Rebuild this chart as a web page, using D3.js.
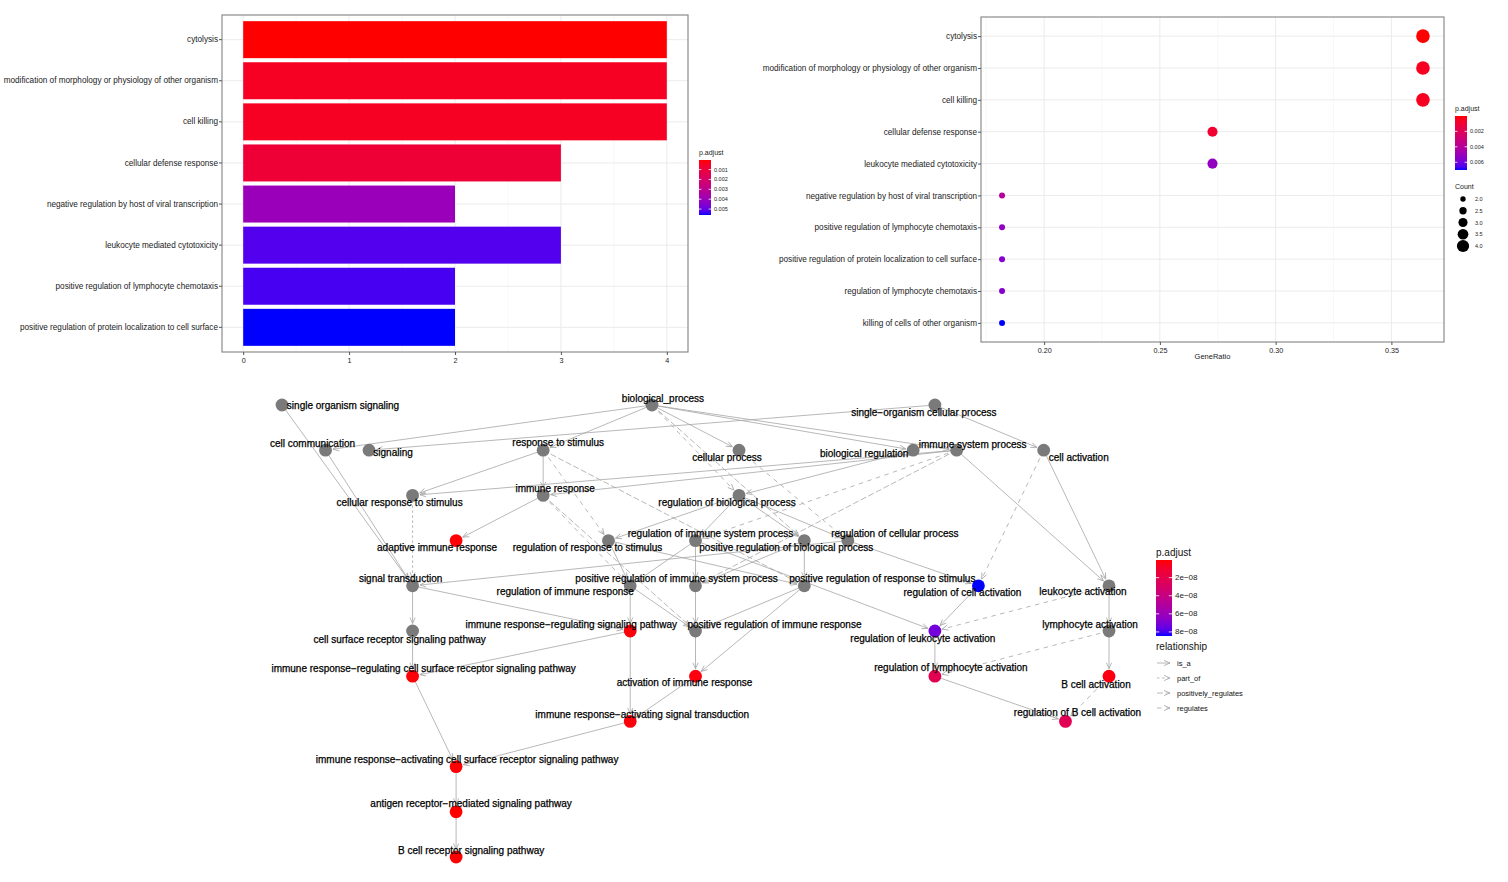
<!DOCTYPE html>
<html><head><meta charset="utf-8">
<script src="https://cdn.jsdelivr.net/npm/d3@7"></script>
<style>body{margin:0;background:#fff;} text{font-family:"Liberation Sans",Arial,sans-serif;}</style>
</head><body>
<svg id="c" width="1508" height="882"></svg>
<script>
// ---------------- DATA ----------------
const barTerms = ["cytolysis","modification of morphology or physiology of other organism","cell killing","cellular defense response","negative regulation by host of viral transcription","leukocyte mediated cytotoxicity","positive regulation of lymphocyte chemotaxis","positive regulation of protein localization to cell surface"];
const barCounts = [4,4,4,3,2,3,2,2];
const barPadj = [0.00003,0.00048,0.00048,0.00087,0.0040,0.0052,0.0053,0.0056];
const barTicks = [0,1,2,3,4];
const barLegendTicks = [0.001,0.002,0.003,0.004,0.005];

const dotTerms = ["cytolysis","modification of morphology or physiology of other organism","cell killing","cellular defense response","leukocyte mediated cytotoxicity","negative regulation by host of viral transcription","positive regulation of lymphocyte chemotaxis","positive regulation of protein localization to cell surface","regulation of lymphocyte chemotaxis","killing of cells of other organism"];
const dotCounts = [4,4,4,3,3,2,2,2,2,2];
const dotTotal = 11;
const dotPadj = [0.00002,0.00048,0.00048,0.00087,0.0052,0.0040,0.0053,0.0056,0.0056,0.0070];
const dotTicks = [0.20,0.25,0.30,0.35];
const dotLegendTicks = [0.002,0.004,0.006];
const countLegend = [2.0,2.5,3.0,3.5,4.0];

// GO graph: [id, label, layout column, layout layer, p.adjust (null = not enriched)]
const goNodes = [
 ["SOS","single organism signaling",0,0,null],
 ["BP","biological_process",17,0,null],
 ["SOCP","single\u2212organism cellular process",30,0,null],
 ["CC","cell communication",2,1,null],
 ["SIG","signaling",4,1,null],
 ["RS","response to stimulus",12,1,null],
 ["CP","cellular process",21,1,null],
 ["BR","biological regulation",29,1,null],
 ["ISP","immune system process",31,1,null],
 ["CA","cell activation",35,1,null],
 ["CRS","cellular response to stimulus",6,2,null],
 ["IR","immune response",12,2,null],
 ["RBP","regulation of biological process",21,2,null],
 ["AIR","adaptive immune response",8,3,1.2e-9],
 ["RRS","regulation of response to stimulus",15,3,null],
 ["RISP","regulation of immune system process",19,3,null],
 ["PRBP","positive regulation of biological process",24,3,null],
 ["RCP","regulation of cellular process",26,3,null],
 ["ST","signal transduction",6,4,null],
 ["RIR","regulation of immune response",16,4,null],
 ["PRISP","positive regulation of immune system process",19,4,null],
 ["PRRS","positive regulation of response to stimulus",24,4,null],
 ["RCA","regulation of cell activation",32,4,8.45e-8],
 ["LA","leukocyte activation",38,4,null],
 ["CSRSP","cell surface receptor signaling pathway",6,5,null],
 ["IRRSP","immune response\u2212regulating signaling pathway",16,5,2.0e-9],
 ["PRIR","positive regulation of immune response",19,5,null],
 ["RLA","regulation of leukocyte activation",30,5,7.2e-8],
 ["LyA","lymphocyte activation",38,5,null],
 ["IRRCS","immune response\u2212regulating cell surface receptor signaling pathway",6,6,1.5e-9],
 ["AcIR","activation of immune response",19,6,2.5e-9],
 ["RLyA","regulation of lymphocyte activation",30,6,2.2e-8],
 ["BCA","B cell activation",38,6,3.0e-9],
 ["IRAST","immune response\u2212activating signal transduction",16,7,1.8e-9],
 ["RBCA","regulation of B cell activation",36,7,2.3e-8],
 ["IRACS","immune response\u2212activating cell surface receptor signaling pathway",8,8,1.0e-9],
 ["ARMSP","antigen receptor\u2212mediated signaling pathway",8,9,6e-10],
 ["BCRSP","B cell receptor signaling pathway",8,10,5e-10]
];
const goEdges = [
 ["BP","RS","is_a"],["BP","CP","is_a"],["BP","BR","is_a"],["BP","ISP","is_a"],["BP","CC","is_a"],
 ["BP","RBP","regulates"],["BP","PRBP","positively_regulates"],
 ["SOCP","SIG","is_a"],["SOCP","CA","is_a"],["SOS","ST","is_a"],["CC","ST","is_a"],
 ["RS","CRS","is_a"],["ISP","CRS","is_a"],["RS","IR","is_a"],["ISP","IR","is_a"],["CRS","ST","part_of"],
 ["IR","AIR","is_a"],["BR","RBP","is_a"],["RBP","RRS","is_a"],["RBP","RISP","is_a"],["RBP","PRBP","is_a"],["RBP","RCP","is_a"],
 ["RS","RRS","regulates"],["ISP","RISP","regulates"],["CP","RCP","regulates"],
 ["RRS","RIR","is_a"],["RISP","RIR","is_a"],["IR","RIR","regulates"],
 ["RISP","PRISP","is_a"],["PRBP","PRISP","is_a"],["ISP","PRISP","positively_regulates"],
 ["RRS","PRRS","is_a"],["PRBP","PRRS","is_a"],["RS","PRRS","positively_regulates"],
 ["RCP","ST","is_a"],["ISP","LA","is_a"],["CA","LA","is_a"],["CA","RCA","regulates"],["RCP","RCA","is_a"],
 ["RCA","RLA","is_a"],["RISP","RLA","is_a"],["LA","RLA","regulates"],["LA","LyA","is_a"],
 ["RLA","RLyA","is_a"],["LyA","RLyA","regulates"],["LyA","BCA","is_a"],["RLyA","RBCA","is_a"],["BCA","RBCA","regulates"],
 ["ST","IRRSP","is_a"],["RIR","IRRSP","is_a"],["ST","CSRSP","is_a"],["CSRSP","IRRCS","is_a"],["IRRSP","IRRCS","is_a"],
 ["PRISP","PRIR","is_a"],["RIR","PRIR","is_a"],["IR","PRIR","positively_regulates"],["PRRS","PRIR","is_a"],
 ["PRIR","AcIR","is_a"],["PRRS","AcIR","is_a"],["IRRSP","IRAST","is_a"],["AcIR","IRAST","is_a"],
 ["IRRCS","IRACS","is_a"],["IRAST","IRACS","is_a"],["IRACS","ARMSP","is_a"],["ARMSP","BCRSP","is_a"]
];
const goRelTypes = ["is_a","part_of","positively_regulates","regulates"];
const goLegendTicks = [2e-8,4e-8,6e-8,8e-8];
const goLegendTickLabels = ["2e\u221208","4e\u221208","6e\u221208","8e\u221208"];

// ---------------- LAYOUT / STYLE ----------------
// label placement (repel result) relative to node, in px
const goLabelNudge = {
 SOS:[61,0],BP:[11,-7],SOCP:[-11,7],CC:[-13,-7],SIG:[24,2],RS:[15,-8],CP:[-12,7],BR:[-49,3],ISP:[16,-6],CA:[35,7],
 CRS:[-13,7],IR:[12,-7],RBP:[-12,7],AIR:[-19,7],RRS:[-21,7],RISP:[15,-7],PRBP:[-18,7],RCP:[47,-7],
 ST:[-12,-7],RIR:[-65,6],PRISP:[-19,-7],PRRS:[78,-7],RCA:[-16,7],LA:[-26,6],
 CSRSP:[-13,8],IRRSP:[-59,-7],PRIR:[79,-7],RLA:[-12,7],LyA:[-19,-7],
 IRRCS:[11,-8],AcIR:[-11,6],RLyA:[16,-9],BCA:[-13,8],IRAST:[12,-7],RBCA:[12,-9],
 IRACS:[11,-7],ARMSP:[15,-8],BCRSP:[15,-7]
};
const dashes = {is_a:null, part_of:"2.5,2.5", positively_regulates:"6,2.5", regulates:"4.5,4.5"};

const svg = d3.select("#c");
const defs = svg.append("defs");
const grad = (id)=>{
  const lg = defs.append("linearGradient").attr("id",id).attr("x1",0).attr("y1",0).attr("x2",0).attr("y2",1);
  d3.range(0,21).forEach(i=>lg.append("stop").attr("offset",i/20).attr("stop-color",d3.interpolateLab("red","blue")(i/20)));
};
grad("g1");grad("g2");grad("g3");
const mkColor = (dom)=>d3.scaleLinear().domain(dom).range(["red","blue"]).interpolate(d3.interpolateLab);

function colorbar(g, x, y0, y1, w, dom, ticks, labels, gid, fs){
  const s = d3.scaleLinear().domain(dom).range([y0,y1]);
  g.append("rect").attr("x",x).attr("y",y0).attr("width",w).attr("height",y1-y0).attr("fill",`url(#${gid})`);
  ticks.forEach((t,i)=>{
    const yy = s(t);
    g.append("line").attr("x1",x).attr("x2",x+w*0.2).attr("y1",yy).attr("y2",yy).attr("stroke","#fff").attr("stroke-width",0.8);
    g.append("line").attr("x1",x+w*0.8).attr("x2",x+w).attr("y1",yy).attr("y2",yy).attr("stroke","#fff").attr("stroke-width",0.8);
    g.append("text").attr("x",x+w+3).attr("y",yy).attr("dominant-baseline","central").attr("font-size",fs).attr("fill","#222").text(labels?labels[i]:t.toFixed(3));
  });
}

// ---------------- BAR CHART ----------------
(function(){
  const g = svg.append("g");
  const L=222,R=688,T=15,B=352;
  const pad=(d3.max(barCounts)-0)*0.05;
  const x = d3.scaleLinear().domain([0-pad,d3.max(barCounts)+pad]).range([L,R]);
  const y = d3.scaleBand().domain(barTerms).range([T,B]).paddingInner(0.1).paddingOuter(0.15);
  const col = mkColor(d3.extent(barPadj));
  g.append("rect").attr("x",L).attr("y",T).attr("width",R-L).attr("height",B-T).attr("fill","#fff");
  [0.5,1.5,2.5,3.5].forEach(v=>g.append("line").attr("x1",x(v)).attr("x2",x(v)).attr("y1",T).attr("y2",B).attr("stroke","#f3f3f3").attr("stroke-width",0.6));
  barTicks.forEach(v=>g.append("line").attr("x1",x(v)).attr("x2",x(v)).attr("y1",T).attr("y2",B).attr("stroke","#ebebeb").attr("stroke-width",1));
  barTerms.forEach(t=>g.append("line").attr("x1",L).attr("x2",R).attr("y1",y(t)+y.bandwidth()/2).attr("y2",y(t)+y.bandwidth()/2).attr("stroke","#ebebeb").attr("stroke-width",1));
  g.selectAll("rect.bar").data(barTerms).join("rect").attr("class","bar")
   .attr("x",x(0)).attr("y",d=>y(d)).attr("width",(d,i)=>x(barCounts[i])-x(0)).attr("height",y.bandwidth())
   .attr("fill",(d,i)=>col(barPadj[i]));
  g.append("rect").attr("x",L).attr("y",T).attr("width",R-L).attr("height",B-T).attr("fill","none").attr("stroke","#8c8c8c").attr("stroke-width",1.2);
  const ax = g.append("g").attr("transform",`translate(0,${B})`).call(d3.axisBottom(x).tickValues(barTicks).tickSize(3).tickFormat(d3.format("d")));
  const ay = g.append("g").attr("transform",`translate(${L},0)`).call(d3.axisLeft(y).tickSize(3).tickPadding(1));
  [ax,ay].forEach(a=>{a.select(".domain").remove();a.selectAll("line").attr("stroke","#555");a.selectAll("text").attr("fill","#1a1a1a").attr("font-family","Liberation Sans, Arial, sans-serif");});
  ax.selectAll("text").attr("font-size",7.2);
  ay.selectAll("text").attr("font-size",8.2);
  const lg = svg.append("g");
  lg.append("text").attr("x",699).attr("y",155).attr("font-size",7).attr("fill","#222").text("p.adjust");
  colorbar(lg,699,160,215,12,d3.extent(barPadj),barLegendTicks,null,"g1",5.5);
})();

// ---------------- DOT PLOT ----------------
(function(){
  const g = svg.append("g");
  const L=981,R=1444,T=17,B=342;
  const ratios = dotCounts.map(c=>c/dotTotal);
  const e = d3.extent(ratios); const pad=(e[1]-e[0])*0.05;
  const x = d3.scaleLinear().domain([e[0]-pad,e[1]+pad]).range([L,R]);
  const y = d3.scalePoint().domain(dotTerms).range([T,B]).padding(0.6);
  const col = mkColor(d3.extent(dotPadj));
  const rs = c=>3.0+(6.8-3.0)*(Math.sqrt(c)-Math.sqrt(2))/(2-Math.sqrt(2));
  g.append("rect").attr("x",L).attr("y",T).attr("width",R-L).attr("height",B-T).attr("fill","#fff");
  [0.175,0.225,0.275,0.325].forEach(v=>g.append("line").attr("x1",x(v)).attr("x2",x(v)).attr("y1",T).attr("y2",B).attr("stroke","#f3f3f3").attr("stroke-width",0.6));
  dotTicks.forEach(v=>g.append("line").attr("x1",x(v)).attr("x2",x(v)).attr("y1",T).attr("y2",B).attr("stroke","#ebebeb").attr("stroke-width",1));
  dotTerms.forEach(t=>g.append("line").attr("x1",L).attr("x2",R).attr("y1",y(t)).attr("y2",y(t)).attr("stroke","#ebebeb").attr("stroke-width",1));
  g.selectAll("circle.dot").data(dotTerms).join("circle").attr("class","dot")
   .attr("cx",(d,i)=>x(ratios[i])).attr("cy",d=>y(d)).attr("r",(d,i)=>rs(dotCounts[i])).attr("fill",(d,i)=>col(dotPadj[i]));
  g.append("rect").attr("x",L).attr("y",T).attr("width",R-L).attr("height",B-T).attr("fill","none").attr("stroke","#8c8c8c").attr("stroke-width",1.2);
  const ax = g.append("g").attr("transform",`translate(0,${B})`).call(d3.axisBottom(x).tickValues(dotTicks).tickSize(3).tickFormat(d3.format(".2f")));
  const ay = g.append("g").attr("transform",`translate(${L},0)`).call(d3.axisLeft(y).tickSize(3).tickPadding(1));
  [ax,ay].forEach(a=>{a.select(".domain").remove();a.selectAll("line").attr("stroke","#555");a.selectAll("text").attr("fill","#1a1a1a").attr("font-family","Liberation Sans, Arial, sans-serif");});
  ax.selectAll("text").attr("font-size",7.2);
  ay.selectAll("text").attr("font-size",8.2);
  g.append("text").attr("x",(L+R)/2).attr("y",359).attr("text-anchor","middle").attr("font-size",7.5).attr("fill","#222").text("GeneRatio");
  const lg = svg.append("g");
  lg.append("text").attr("x",1455).attr("y",111).attr("font-size",7).attr("fill","#222").text("p.adjust");
  colorbar(lg,1455,116,170,12,d3.extent(dotPadj),dotLegendTicks,null,"g2",5.5);
  lg.append("text").attr("x",1455).attr("y",189).attr("font-size",7).attr("fill","#222").text("Count");
  const cy = d3.scaleLinear().domain([2,4]).range([199,246]);
  countLegend.forEach(c=>{
    lg.append("circle").attr("cx",1463).attr("cy",cy(c)).attr("r",rs(c)*0.9).attr("fill","#000");
    lg.append("text").attr("x",1475).attr("y",cy(c)).attr("dominant-baseline","central").attr("font-size",5.5).attr("fill","#222").text(c.toFixed(1));
  });
})();

// ---------------- GO GRAPH ----------------
(function(){
  const g = svg.append("g");
  const xs = d3.scaleLinear().domain([0,38]).range([282,1109]);
  const ys = d3.scaleLinear().domain([0,10]).range([405,857]);
  const pExt = d3.extent(goNodes.filter(n=>n[4]!==null).map(n=>n[4]));
  const col = mkColor(pExt);
  const pos = {}; goNodes.forEach(n=>pos[n[0]]=[xs(n[2]),ys(n[3])]);
  const ecol = "#a6a6a6";
  defs.append("marker").attr("id","arr").attr("viewBox","-7 -4 8 8").attr("refX",0).attr("refY",0)
    .attr("markerWidth",8).attr("markerHeight",8).attr("markerUnits","userSpaceOnUse").attr("orient","auto")
    .append("path").attr("d","M-6,-2.6L0,0L-6,2.6").attr("fill","none").attr("stroke",ecol).attr("stroke-width",0.8);
  const eg = g.append("g");
  goEdges.forEach(([s,t,r])=>{
    const [x1,y1]=pos[s],[x2,y2]=pos[t];
    const dx=x2-x1,dy=y2-y1,len=Math.hypot(dx,dy),cap=7.5;
    eg.append("line").attr("x1",x1).attr("y1",y1).attr("x2",x2-dx/len*cap).attr("y2",y2-dy/len*cap)
      .attr("stroke",ecol).attr("stroke-width",0.8).attr("stroke-dasharray",dashes[r]).attr("marker-end","url(#arr)");
  });
  g.selectAll("circle.node").data(goNodes).join("circle").attr("class","node")
    .attr("cx",d=>pos[d[0]][0]).attr("cy",d=>pos[d[0]][1]).attr("r",6.4)
    .attr("fill",d=>d[4]===null?"#7a7a7a":col(d[4]));
  g.selectAll("text.lab").data(goNodes).join("text").attr("class","lab")
    .attr("x",d=>pos[d[0]][0]+goLabelNudge[d[0]][0]).attr("y",d=>pos[d[0]][1]+goLabelNudge[d[0]][1])
    .attr("text-anchor","middle").attr("dominant-baseline","central").attr("font-size",10).attr("fill","#000")
    .attr("stroke","#000").attr("stroke-width",0.25)
    .text(d=>d[1]);
  const lg = svg.append("g");
  lg.append("text").attr("x",1156).attr("y",552).attr("dominant-baseline","central").attr("font-size",10).attr("fill","#111").text("p.adjust");
  colorbar(lg,1156,560,636,16,pExt,goLegendTicks,goLegendTickLabels,"g3",8);
  lg.append("text").attr("x",1156).attr("y",646).attr("dominant-baseline","central").attr("font-size",10).attr("fill","#111").text("relationship");
  const ly = d3.scalePoint().domain(goRelTypes).range([663,708]);
  goRelTypes.forEach(r=>{
    lg.append("line").attr("x1",1157).attr("x2",1170).attr("y1",ly(r)).attr("y2",ly(r)).attr("stroke",ecol).attr("stroke-width",0.8)
      .attr("stroke-dasharray",dashes[r]).attr("marker-end","url(#arr)");
    lg.append("text").attr("x",1177).attr("y",ly(r)).attr("dominant-baseline","central").attr("font-size",7.5).attr("fill","#111").text(r);
  });
})();
</script>
</body></html>
